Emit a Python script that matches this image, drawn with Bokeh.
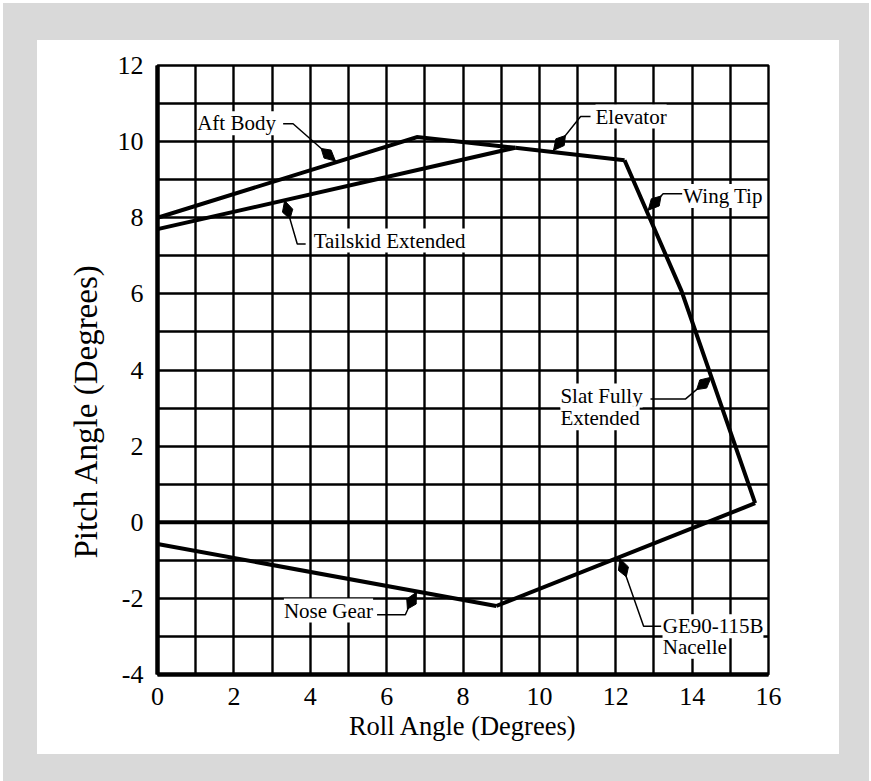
import math
from bokeh.plotting import figure
from bokeh.models import (Range1d, FixedTicker, Span, Title, LabelSet, ColumnDataSource)
from bokeh.embed import file_html
from bokeh.resources import INLINE

# ---------------- data ----------------
x_ticks = [0, 2, 4, 6, 8, 10, 12, 14, 16]
y_ticks = [-4, -2, 0, 2, 4, 6, 8, 10, 12]
x_grid = list(range(0, 17))
y_grid = list(range(-4, 13))

aft_body_x = [0.0, 6.80, 9.37]
aft_body_y = [8.00, 10.12, 9.84]
tailskid_x = [0.0, 9.37]
tailskid_y = [7.70, 9.84]
elevator_x = [9.37, 12.23]
elevator_y = [9.84, 9.51]
wing_tip_x = [12.23, 13.72, 15.65]
wing_tip_y = [9.51, 6.08, 0.50]
nacelle_x = [15.65, 8.87]
nacelle_y = [0.50, -2.20]
nose_gear_x = [8.87, 0.0]
nose_gear_y = [-2.20, -0.57]

label_text = ["Aft Body", "Tailskid Extended", "Elevator", "Wing Tip",
              "Slat Fully", "Extended", "Nose Gear", "GE90-115B", "Nacelle"]
label_x = [1.04, 4.09, 11.47, 13.77, 10.55, 10.55, 3.31, 13.23, 13.23]
label_y = [10.48, 7.40, 10.66, 8.57, 3.33, 2.73, -2.32, -2.73, -3.27]

leader_xs = [[3.29, 3.55, 4.66],
             [3.88, 3.66, 3.33],
             [11.34, 11.08, 10.37],
             [13.74, 13.24, 12.85],
             [12.91, 13.83, 14.50],
             [5.75, 6.49, 6.62, 6.78],
             [13.19, 12.73, 12.11]]
leader_ys = [[10.47, 10.47, 9.49],
             [7.31, 7.31, 8.45],
             [10.66, 10.66, 9.77],
             [8.63, 8.63, 8.20],
             [3.24, 3.24, 3.81],
             [-2.43, -2.43, -2.14, -1.84],
             [-2.73, -2.73, -0.96]]

x_title = "Roll Angle (Degrees)"
y_title = "Pitch Angle (Degrees)"

FONT = "Liberation Serif"

# ---------------- figure (the white panel) ----------------
p = figure(width=802, height=714, output_backend="svg", toolbar_location=None,
           x_range=Range1d(0, 16), y_range=Range1d(-4, 12),
           min_border_left=120, min_border_right=71,
           min_border_top=25, min_border_bottom=80,
           border_fill_color="white", background_fill_color="white",
           outline_line_color="black", outline_line_width=2.4,
           margin=(40, 0, 0, 37),
           styles={"box-shadow": "-2px -5px 0 32px #d9d9d9"})

# grid
p.xgrid.ticker = FixedTicker(ticks=x_grid)
p.ygrid.ticker = FixedTicker(ticks=y_grid)
for g in (p.xgrid, p.ygrid):
    g.grid_line_color = "black"
    g.grid_line_width = 2.4
    g.grid_line_alpha = 1.0

# axes
p.xaxis.ticker = FixedTicker(ticks=x_ticks)
p.yaxis.ticker = FixedTicker(ticks=y_ticks)
p.xaxis.major_label_overrides = {v: str(v) for v in x_ticks}
p.yaxis.major_label_overrides = {v: str(v) for v in y_ticks}
for ax in (p.xaxis, p.yaxis):
    ax.axis_line_width = 4.5
    ax.axis_line_color = "black"
    ax.major_tick_line_color = None
    ax.minor_tick_line_color = None
    ax.major_label_text_font = FONT
    ax.major_label_text_font_size = "26px"
    ax.major_label_text_color = "black"
    ax.axis_label_text_font = FONT
    ax.axis_label_text_font_style = "normal"
    ax.axis_label_text_color = "black"
p.xaxis.axis_label = x_title
p.xaxis.axis_label_text_font_size = "26.5px"
p.xaxis.major_label_standoff = 7
p.yaxis.major_label_standoff = 8
p.xaxis.axis_label_standoff = 3

# y title: sits below the frame centre in the reference, so use a side Title
p.add_layout(Title(text=y_title, align="left", offset=116, standoff=22,
                   text_font=FONT, text_font_size="33px", text_font_style="normal",
                   text_color="black"), "left")

# zero line
p.add_layout(Span(location=0, dimension="width", line_color="black", line_width=4))

# boundary lines
for xs, ys in ((aft_body_x, aft_body_y), (tailskid_x, tailskid_y),
               (elevator_x, elevator_y), (wing_tip_x, wing_tip_y),
               (nacelle_x, nacelle_y), (nose_gear_x, nose_gear_y)):
    p.line(xs, ys, line_color="black", line_width=4, line_join="miter")

# leaders
p.multi_line(leader_xs, leader_ys, line_color="black", line_width=1.5)

# arrow heads computed from the leader direction
def head(xs, ys, L=0.5, w=0.14):
    tx, ty = xs[-1], ys[-1]
    dx, dy = tx - xs[-2], ty - ys[-2]
    n = math.hypot(dx, dy)
    ux, uy = dx / n, dy / n
    bx, by = tx - L * ux, ty - L * uy
    mx, my = tx - 0.55 * L * ux, ty - 0.55 * L * uy
    return ([tx, mx - w * uy, bx, mx + w * uy],
            [ty, my + w * ux, by, my - w * ux])

hx, hy = [], []
for xs, ys in zip(leader_xs, leader_ys):
    a, b = head(xs, ys)
    hx.append(a)
    hy.append(b)
p.patches(hx, hy, fill_color="black", line_color="black", line_width=1)

# labels
src = ColumnDataSource(dict(x=label_x, y=label_y, text=label_text))
p.add_layout(LabelSet(x="x", y="y", text="text", source=src,
                      text_font=FONT, text_font_size="21px", text_color="black",
                      text_align="left", text_baseline="middle",
                      background_fill_color="white", background_fill_alpha=1.0))

open("out.html", "w").write(file_html(p, INLINE))
